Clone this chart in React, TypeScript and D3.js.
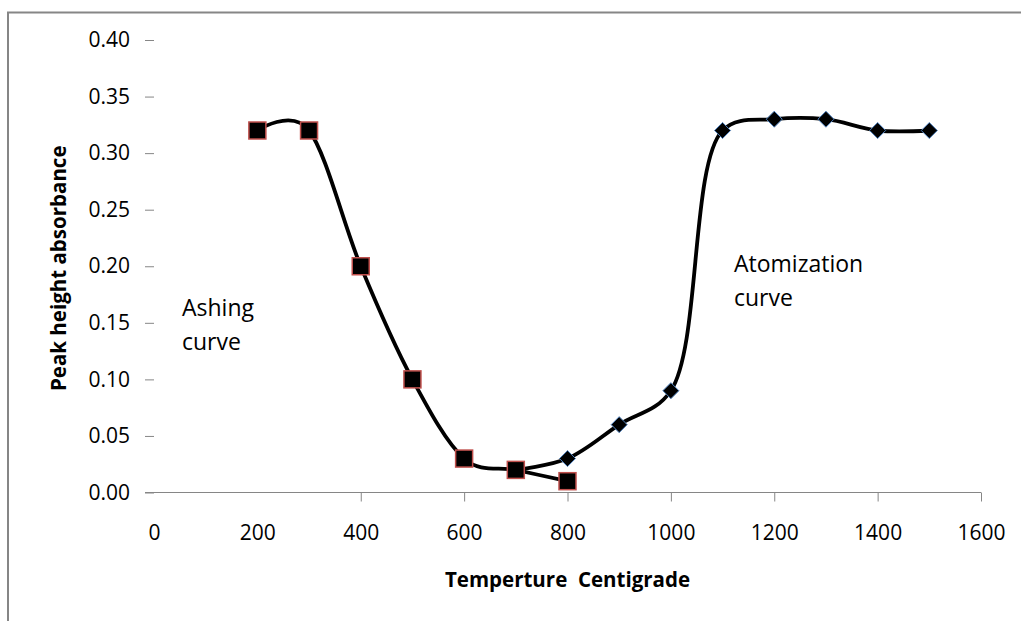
import React, { useEffect, useRef } from 'react';
import * as d3 from 'd3';

// ashing series (square markers)
const ashingTemp = [200, 300, 400, 500, 600, 700, 800];
const ashingAbs = [0.32, 0.32, 0.2, 0.1, 0.03, 0.02, 0.01];

// atomization series (diamond markers)
const atomTemp = [700, 800, 900, 1000, 1100, 1200, 1300, 1400, 1500];
const atomAbs = [0.02, 0.03, 0.06, 0.09, 0.32, 0.33, 0.33, 0.32, 0.32];

const xTicks = [0, 200, 400, 600, 800, 1000, 1200, 1400, 1600];
const yTicks = [0, 0.05, 0.1, 0.15, 0.2, 0.25, 0.3, 0.35, 0.4];

const FONT = '"Open Sans", "DejaVu Sans", sans-serif';

function App() {
  const ref = useRef<SVGSVGElement>(null);

  useEffect(() => {
    const svg = d3.select(ref.current);
    svg.selectAll('*').remove();

    const x = d3.scaleLinear().domain([0, 1600]).range([154, 981]);
    const y = d3.scaleLinear().domain([0, 0.4]).range([492.5, 40]);

    // outer frame (left and top edges only visible)
    svg.append('path')
      .attr('d', 'M8,621 V12.5 H1021')
      .attr('fill', 'none')
      .attr('stroke', '#868686')
      .attr('stroke-width', 2);

    // y axis
    const gy = svg.append('g')
      .attr('transform', `translate(${x(0)},0)`)
      .call(d3.axisLeft(y).tickValues(yTicks).tickFormat(d3.format('.2f')).tickSize(9).tickPadding(15));
    gy.select('.domain').remove();
    gy.selectAll('.tick line').attr('stroke', '#868686');
    gy.selectAll('.tick text')
      .attr('font-family', FONT)
      .attr('font-size', 21)
      .attr('fill', '#000');

    // x axis
    const gx = svg.append('g')
      .attr('transform', `translate(0,${y(0)})`)
      .call(d3.axisBottom(x).tickValues(xTicks).tickFormat(d3.format('d')).tickSize(9).tickPadding(24).tickSizeOuter(0));
    gx.select('.domain')
      .attr('d', `M145,0 H${x(1600)}`)
      .attr('stroke', '#868686');
    gx.selectAll('.tick line')
      .attr('stroke', '#868686')
      .attr('opacity', (d: any) => (d < 400 ? 0 : 1));
    gx.selectAll('.tick text')
      .attr('font-family', FONT)
      .attr('font-size', 21)
      .attr('fill', '#000');

    // axis titles
    svg.append('text')
      .attr('x', (x(0) + x(1600)) / 2)
      .attr('y', 587)
      .attr('text-anchor', 'middle')
      .attr('font-family', FONT)
      .attr('font-weight', 'bold')
      .attr('font-size', 20.5)
      .style('white-space', 'pre')
      .text('Temperture  Centigrade');

    svg.append('text')
      .attr('transform', `translate(66,${(y(0) + y(0.4)) / 2 + 2}) rotate(-90)`)
      .attr('text-anchor', 'middle')
      .attr('font-family', FONT)
      .attr('font-weight', 'bold')
      .attr('font-size', 20.5)
      .text('Peak height absorbance');

    const ashLine = d3.line<[number, number]>()
      .x(d => x(d[0]))
      .y(d => y(d[1]))
      .curve(d3.curveCardinal.tension(0));

    const atomLine = d3.line<[number, number]>()
      .x(d => x(d[0]))
      .y(d => y(d[1]))
      .curve(d3.curveCatmullRom.alpha(0.5));

    const atomData = atomTemp.map((t, i) => [t, atomAbs[i]] as [number, number]);
    const ashData = ashingTemp.map((t, i) => [t, ashingAbs[i]] as [number, number]);

    // atomization curve
    svg.append('path')
      .attr('d', atomLine(atomData))
      .attr('fill', 'none')
      .attr('stroke', '#000')
      .attr('stroke-width', 3.8);

    svg.selectAll('.diamond')
      .data(atomData)
      .enter().append('path')
      .attr('class', 'diamond')
      .attr('transform', d => `translate(${x(d[0])},${y(d[1])})`)
      .attr('d', 'M0,-8 L8,0 L0,8 L-8,0 Z')
      .attr('fill', '#000')
      .attr('stroke', '#4f81bd')
      .attr('stroke-width', 1);

    // ashing curve
    svg.append('path')
      .attr('d', ashLine(ashData))
      .attr('fill', 'none')
      .attr('stroke', '#000')
      .attr('stroke-width', 3.8);

    svg.selectAll('.square')
      .data(ashData)
      .enter().append('rect')
      .attr('class', 'square')
      .attr('x', d => x(d[0]) - 8.5)
      .attr('y', d => y(d[1]) - 8.5)
      .attr('width', 17)
      .attr('height', 17)
      .attr('fill', '#000')
      .attr('stroke', '#c0504d')
      .attr('stroke-width', 1.5);

    // annotations
    const note = (lines: string[], left: number, top: number) => {
      const t = svg.append('text')
        .attr('font-family', FONT)
        .attr('font-size', 23)
        .attr('fill', '#000');
      lines.forEach((s, i) => {
        t.append('tspan').attr('x', left).attr('y', top + i * 34).text(s);
      });
    };
    note(['Ashing', 'curve'], 182, 316);
    note(['Atomization', 'curve'], 734, 272);
  }, []);

  return (
    <svg ref={ref} width={1021} height={621}
      style={{ position: 'absolute', left: 0, top: 0, background: '#fff' }} />
  );
}

export default App;
